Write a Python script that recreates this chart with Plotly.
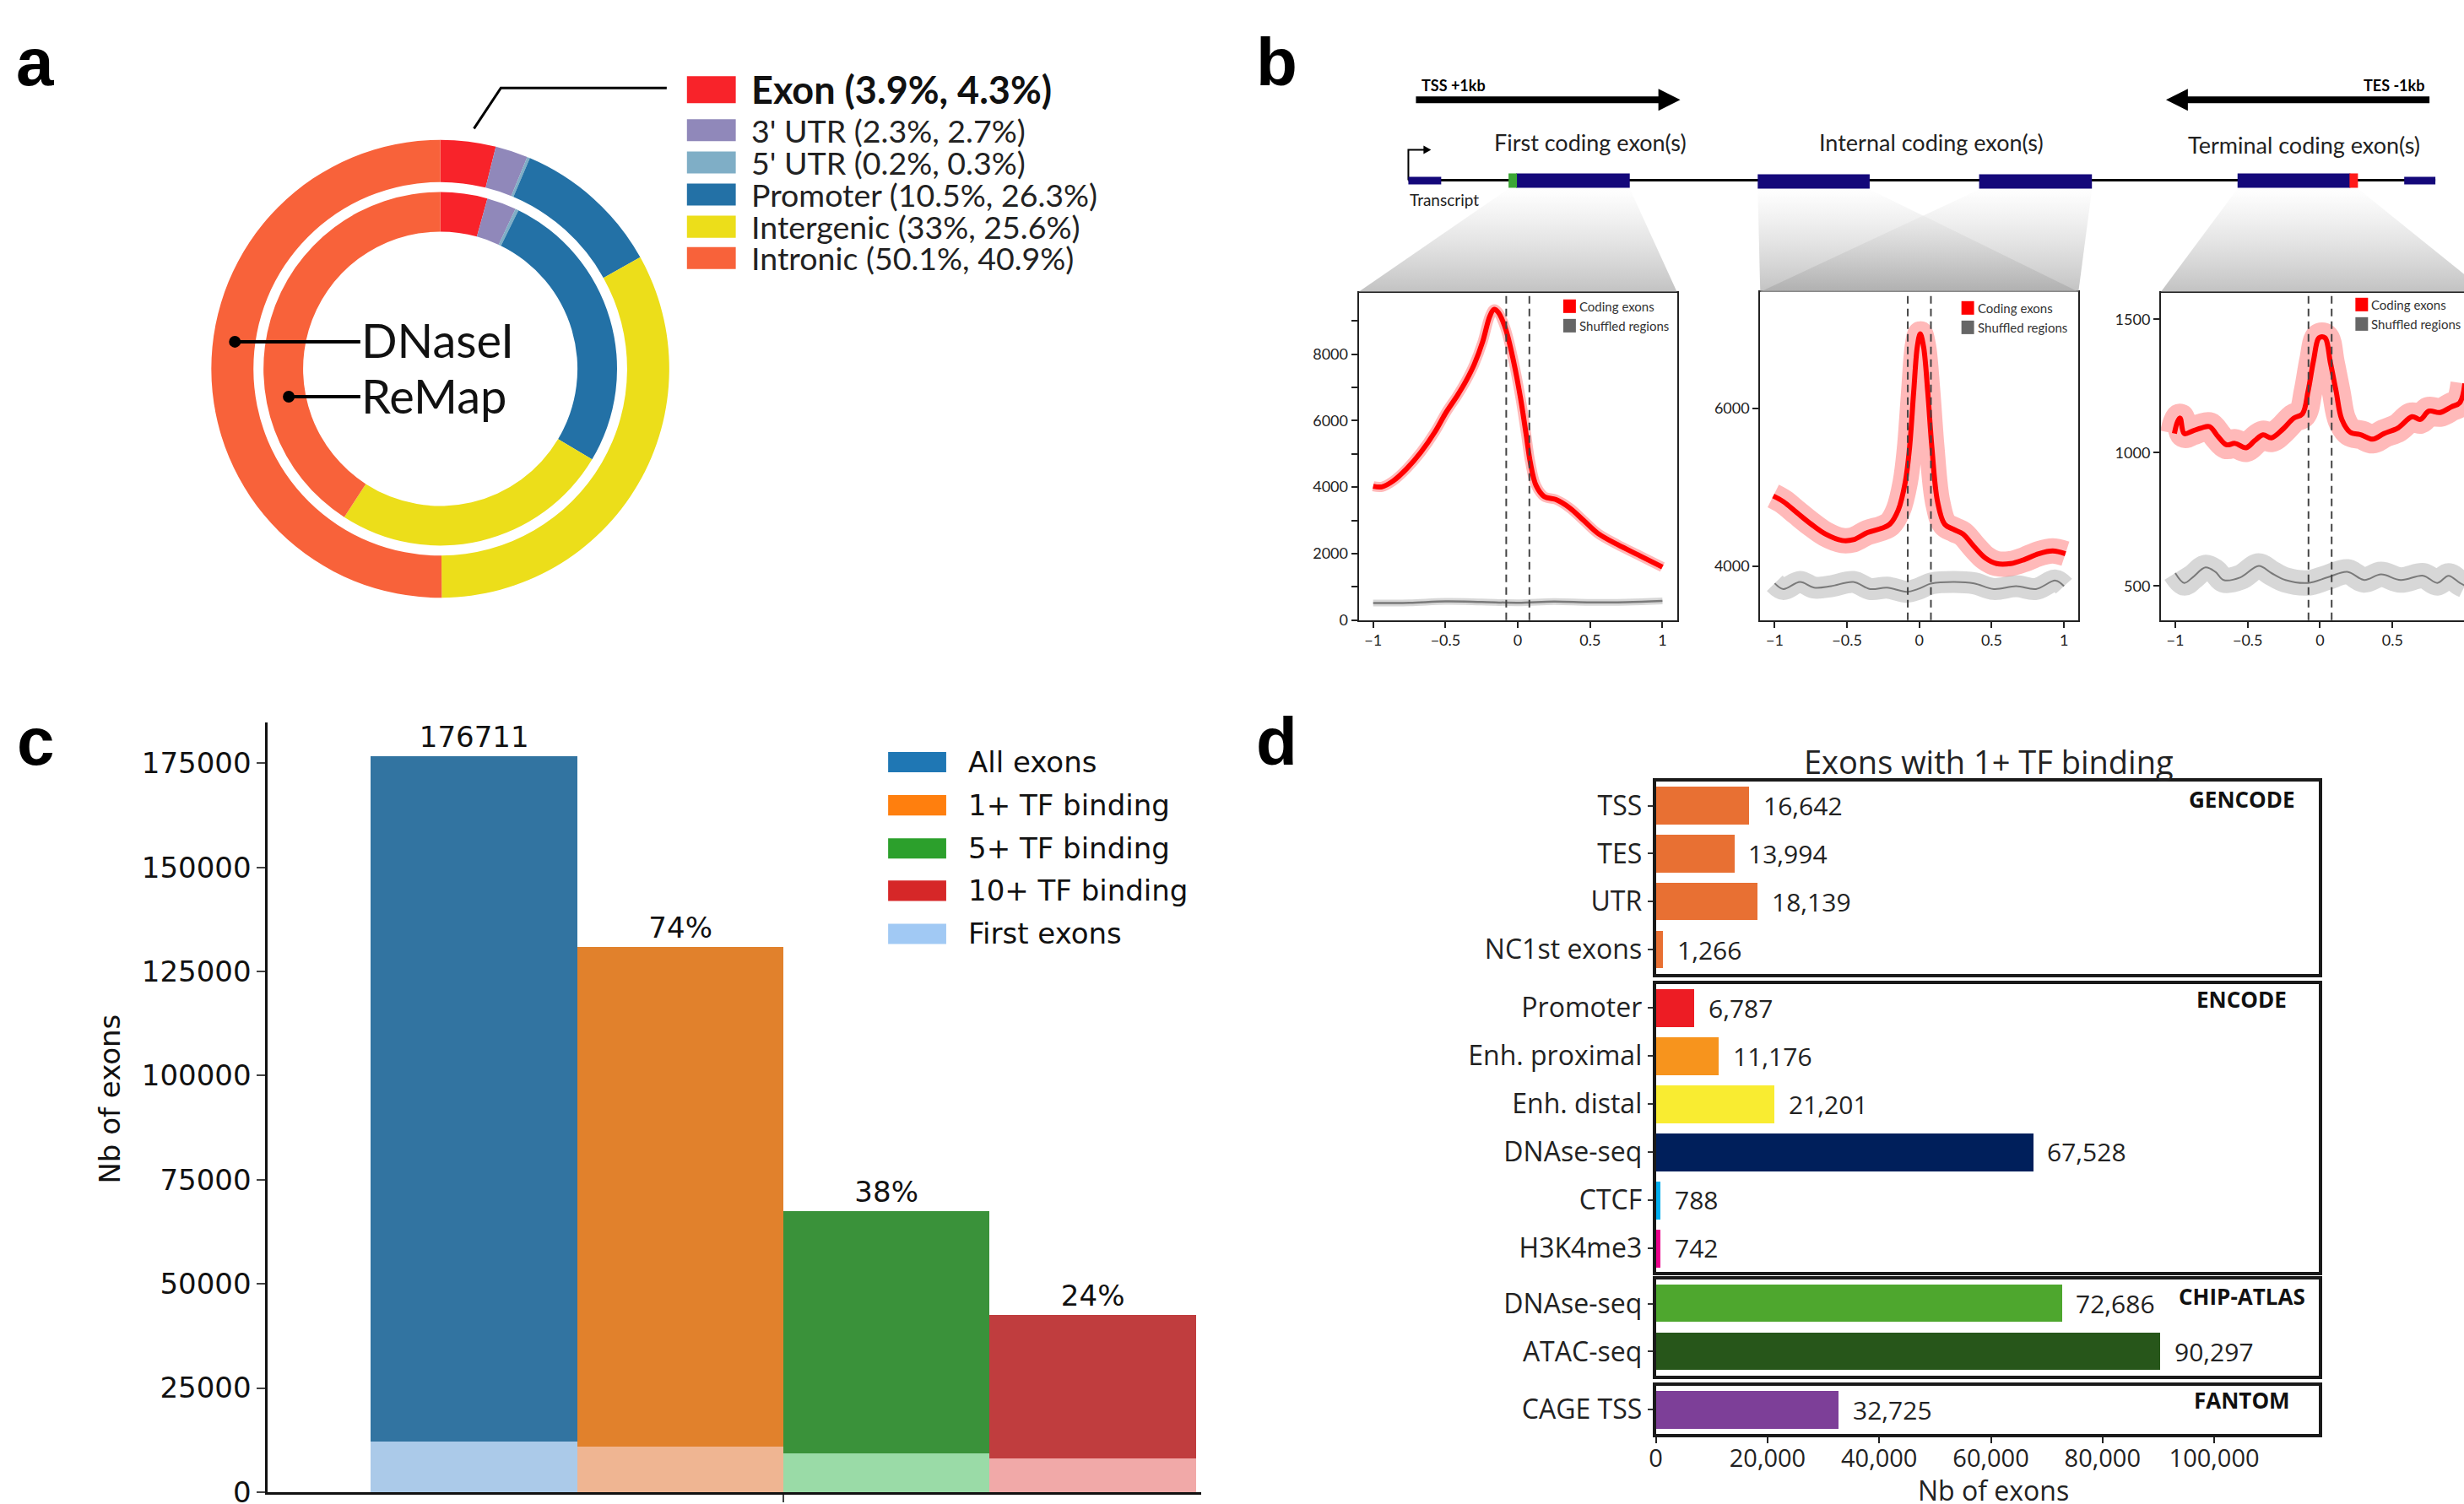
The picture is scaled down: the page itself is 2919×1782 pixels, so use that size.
import plotly.graph_objects as go

W, H = 2919, 1782
H_FIG = 1806  # page is squeezed to the window height when photographed

# ---------------- Panel a data ----------------
region_labels = ["Exon", "3' UTR", "5' UTR", "Promoter", "Intergenic", "Intronic"]
dnase_pct = [3.9, 2.3, 0.2, 10.5, 33, 50.1]
remap_pct = [4.3, 2.7, 0.3, 26.3, 25.6, 40.9]
region_colors = ["#F8232A", "#9088BA", "#7FAEC6", "#2371A6", "#ECDE1A", "#F8623A"]
ring_names = ["DNaseI", "ReMap"]

# ---------------- Panel b data ----------------
first_x = [-1.0, -0.94, -0.864, -0.767, -0.67, -0.573, -0.495, -0.417, -0.359, -0.301,
           -0.243, -0.194, -0.165, -0.136, -0.087, -0.029, 0.019, 0.058, 0.087, 0.126,
           0.184, 0.262, 0.359, 0.456, 0.553, 0.689, 0.845, 1.0]
first_coding = [4025, 4008, 4178, 4559, 5051, 5661, 6254, 6763, 7186, 7695,
                8373, 9136, 9347, 9263, 8797, 7780, 6678, 5576, 4729, 4051,
                3712, 3627, 3373, 2992, 2610, 2271, 1932, 1593]
first_shuf_x = [-1.0, -0.75, -0.5, -0.25, 0.0, 0.25, 0.5, 0.75, 1.0]
first_shuffled = [510, 520, 560, 545, 520, 555, 530, 540, 575]

internal_x = [-1.01, -0.94, -0.845, -0.748, -0.65, -0.534, -0.456, -0.359, -0.262, -0.204,
              -0.146, -0.097, -0.068, -0.039, -0.014, 0.006, 0.029, 0.058, 0.087, 0.126,
              0.175, 0.243, 0.301, 0.379, 0.456, 0.534, 0.631, 0.728, 0.825, 0.922, 1.01]
internal_coding = [4893, 4821, 4679, 4536, 4411, 4329, 4339, 4429, 4482, 4536,
                   4714, 5071, 5500, 6214, 6786, 6946, 6786, 6214, 5500, 4821,
                   4536, 4464, 4411, 4250, 4107, 4036, 4036, 4089, 4161, 4196, 4161]
internal_shuf_x = [-1.0, -0.94, -0.825, -0.728, -0.61, -0.456, -0.34, -0.223, -0.087, -0.01,
                   0.087, 0.243, 0.379, 0.515, 0.67, 0.806, 0.942, 1.0]
internal_shuffled = [3786, 3714, 3804, 3732, 3750, 3804, 3714, 3732, 3679, 3714,
                     3786, 3804, 3786, 3714, 3750, 3714, 3821, 3750]

terminal_x = [-1.006, -0.986, -0.967, -0.938, -0.88, -0.82, -0.763, -0.705, -0.647, -0.588,
              -0.511, -0.452, -0.394, -0.336, -0.258, -0.181, -0.122, -0.083, -0.045, -0.006,
              0.033, 0.072, 0.111, 0.15, 0.208, 0.285, 0.363, 0.441, 0.538, 0.635,
              0.693, 0.751, 0.829, 0.907, 0.965, 1.0]
terminal_coding = [1072, 1114, 1130, 1072, 1082, 1093, 1098, 1061, 1030, 1035,
                   1019, 1045, 1067, 1056, 1088, 1130, 1146, 1230, 1346, 1431,
                   1431, 1336, 1230, 1125, 1077, 1067, 1051, 1072, 1093, 1135,
                   1125, 1156, 1151, 1172, 1188, 1260]
terminal_shuf_x = [-1.0, -0.938, -0.88, -0.792, -0.724, -0.666, -0.55, -0.423, -0.336, -0.239,
                   -0.083, 0.052, 0.188, 0.305, 0.421, 0.557, 0.713, 0.81, 0.887, 0.965, 1.0]
terminal_shuffled = [549, 512, 533, 570, 554, 523, 533, 576, 549, 523,
                     512, 533, 554, 523, 544, 523, 539, 512, 539, 512, 502]

exon_bounds = [-0.08, 0.08]
b_xticks = [-1, -0.5, 0, 0.5, 1]
b_xticklabels = ["\u22121", "\u22120.5", "0", "0.5", "1"]
b1_yticks = [0, 1000, 2000, 3000, 4000, 5000, 6000, 7000, 8000, 9000]
b1_yticklabels = ["0", "", "2000", "", "4000", "", "6000", "", "8000", ""]
b2_yticks = [4000, 6000]
b3_yticks = [500, 1000, 1500]
b_titles = ["First coding exon(s)", "Internal coding exon(s)", "Terminal coding exon(s)"]
b_legend = ["Coding exons", "Shuffled regions"]

# ---------------- Panel c data ----------------
c_groups = ["All exons", "1+ TF binding", "5+ TF binding", "10+ TF binding"]
c_counts = [176711, 131000, 67500, 42600]
c_first = [12200, 10950, 9350, 8150]
c_bar_colors = ["#3274A1", "#E1812C", "#3A923A", "#C03D3E"]
c_first_colors = ["#ABCAE9", "#EFB592", "#9ADBA7", "#F1A9A8"]
c_legend_labels = c_groups + ["First exons"]
c_legend_colors = ["#1F77B4", "#FF7F0E", "#2CA02C", "#D62728", "#A1C9F4"]
c_yticks = [0, 25000, 50000, 75000, 100000, 125000, 150000, 175000]

# ---------------- Panel d data ----------------
d_sources = ["GENCODE", "ENCODE", "CHIP-ATLAS", "FANTOM"]
gencode_labels = ["TSS", "TES", "UTR", "NC1st exons"]
gencode_vals = [16642, 13994, 18139, 1266]
gencode_colors = ["#E87033", "#E87033", "#E87033", "#E87033"]
encode_labels = ["Promoter", "Enh. proximal", "Enh. distal", "DNAse-seq", "CTCF", "H3K4me3"]
encode_vals = [6787, 11176, 21201, 67528, 788, 742]
encode_colors = ["#ED1C24", "#F7941D", "#F9EC31", "#001F5B", "#00AEEF", "#EC008C"]
chip_labels = ["DNAse-seq", "ATAC-seq"]
chip_vals = [72686, 90297]
chip_colors = ["#4EA72E", "#27561A"]
fantom_labels = ["CAGE TSS"]
fantom_vals = [32725]
fantom_colors = ["#7D3F98"]
d_xticks = [0, 20000, 40000, 60000, 80000, 100000]

# ======================================================================
def xd(a, b):
    return [a / W, b / W]


def yd(top, bot):
    return [1 - bot / H, 1 - top / H]


fig = go.Figure()
shapes = []
annotations = []
PX = dict(xref="x9", yref="y9")


def text(x, y, s, size, family="Lato", color="#1a1a1a", xanchor="left", yanchor="middle", angle=0):
    annotations.append(dict(x=x, y=y, text=s, showarrow=False, xanchor=xanchor, yanchor=yanchor,
                            textangle=angle, font=dict(size=size, family=family, color=color), **PX))


def rect(x0, y0, x1, y1, color, line_w=0, line_c=None):
    shapes.append(dict(type="rect", x0=x0, y0=y0, x1=x1, y1=y1, fillcolor=color,
                       line=dict(width=line_w, color=line_c or color), **PX))


def path(d, color="black", width=3, fill=None):
    s = dict(type="path", path=d, line=dict(color=color, width=width), **PX)
    if fill:
        s["fillcolor"] = fill
    shapes.append(s)


# ---------------- Panel labels ----------------
for lab, x, y in [("a", 9, 73), ("b", 1482, 73), ("c", 10, 877), ("d", 1482, 877)]:
    text(x, y, "<b>%s</b>" % lab, 80, family="Liberation Sans", color="black")

# ---------------- Panel a ----------------
cx, cy = 515, 436
for vals, r, hole in [(dnase_pct, 272, 0.816), (remap_pct, 210, 0.776)]:
    fig.add_trace(go.Pie(values=vals, labels=region_labels, sort=False, direction="clockwise",
                         rotation=0, hole=hole, textinfo="none", hoverinfo="skip", showlegend=False,
                         marker=dict(colors=region_colors, line=dict(width=0)),
                         domain=dict(x=xd(cx - r, cx + r), y=yd(cy - r, cy + r))))

leg_rows = [106, 154, 192, 230, 268, 305]
for i, (lab, dv, rv, col) in enumerate(zip(region_labels, dnase_pct, remap_pct, region_colors)):
    hh = 16 if i == 0 else 13
    rect(808, leg_rows[i] - hh, 866, leg_rows[i] + hh, col)
    s = "%s (%s%%, %s%%)" % (lab, dv, rv)
    if i == 0:
        text(882, leg_rows[i], "<b>%s</b>" % s, 45, color="#111")
    else:
        text(882, leg_rows[i], s, 37.5, color="#222")
path("M 555 152 L 587 104 L 784 104", width=3)

for name, dotx, y in [(ring_names[0], 271, 404), (ring_names[1], 335, 469)]:
    shapes.append(dict(type="circle", x0=dotx - 7, x1=dotx + 7, y0=y - 7, y1=y + 7,
                       fillcolor="black", line=dict(width=0), **PX))
    shapes.append(dict(type="line", x0=dotx, x1=420, y0=y, y1=y, line=dict(color="black", width=4), **PX))
    text(419, y - 2, name, 56, color="#111")

# ---------------- Panel b : schematic ----------------
NAVY = "#14087A"
rect(1674, 114, 1964, 122, "black")
path("M 1962 105 L 1988 118 L 1962 131 Z", width=0, fill="black")
text(1679, 101, "<b>TSS +1kb</b>", 18, color="black")
rect(2588, 114, 2878, 122, "black")
path("M 2591 105 L 2565 118 L 2591 131 Z", width=0, fill="black")
text(2874, 101, "<b>TES -1kb</b>", 18, color="black", xanchor="right")
trap = [
    ([1784, 1928, 1984, 1606, 1784], [223, 223, 345, 345, 223]),
    ([2080, 2213, 2461, 2083, 2080], [224, 224, 345, 345, 224]),
    ([2343, 2477, 2461, 2083, 2343], [224, 224, 345, 345, 224]),
    ([2650, 2793, 2945, 2559, 2650], [223, 223, 345, 345, 223]),
]
for tx, ty in trap:
    fig.add_trace(go.Scatter(x=tx, y=ty, mode="lines", line=dict(width=0), fill="toself",
                             fillgradient=dict(type="vertical", start=224, stop=345,
                                               colorscale=[[0, "rgba(252,252,252,0.5)"],
                                                           [1, "rgba(165,165,165,0.7)"]]),
                             hoverinfo="skip", showlegend=False, xaxis="x9", yaxis="y9"))
shapes.append(dict(type="line", x0=1665, x1=2885, y0=213, y1=213, line=dict(color="black", width=3), **PX))
path("M 1665 213 L 1665 177 L 1684 177", width=2)
path("M 1683 172 L 1692 177 L 1683 182 Z", width=0, fill="black")
rect(1665, 209, 1704, 218, NAVY)
rect(2848, 209, 2885, 218, NAVY)
rect(1793, 205, 1928, 222, NAVY)
rect(1784, 205, 1794, 222, "#3BA635")
rect(2080, 206, 2213, 223, NAVY)
rect(2343, 206, 2477, 223, NAVY)
rect(2650, 205, 2784, 222, NAVY)
rect(2783, 205, 2793, 222, "#FF1A1A")
text(1665, 236, "Transcript", 19, color="#222")
text(1881, 168, b_titles[0], 27, color="#222", xanchor="center")
text(2286, 168, b_titles[1], 27, color="#222", xanchor="center")
text(2729, 171, b_titles[2], 27, color="#222", xanchor="center")

# ---------------- Panel b : profiles ----------------
b_sets = [
    (first_x, first_coding, first_shuf_x, first_shuffled, 12, 8),
    (internal_x, internal_coding, internal_shuf_x, internal_shuffled, 30, 26),
    (terminal_x, terminal_coding, terminal_shuf_x, terminal_shuffled, 34, 30),
]
for i, (rx, ry, gx, gy, rband, gband) in enumerate(b_sets, start=1):
    xa, ya = "x%d" % i if i > 1 else "x", "y%d" % i if i > 1 else "y"
    fig.add_trace(go.Scatter(x=gx, y=gy, mode="lines", line=dict(color="rgba(175,175,175,0.5)", width=gband, shape="spline"),
                             hoverinfo="skip", showlegend=False, xaxis=xa, yaxis=ya))
    fig.add_trace(go.Scatter(x=gx, y=gy, mode="lines", line=dict(color="#7a7a7a", width=2.5 if i == 1 else 2, shape="spline"),
                             hoverinfo="skip", showlegend=False, xaxis=xa, yaxis=ya))
    fig.add_trace(go.Scatter(x=rx, y=ry, mode="lines", line=dict(color="rgba(255,80,80,0.4)", width=rband, shape="spline"),
                             hoverinfo="skip", showlegend=False, xaxis=xa, yaxis=ya))
    fig.add_trace(go.Scatter(x=rx, y=ry, mode="lines", line=dict(color="#FF0000", width=6, shape="spline"),
                             hoverinfo="skip", showlegend=False, xaxis=xa, yaxis=ya))
    for xb in exon_bounds:
        shapes.append(dict(type="line", xref=xa, yref=ya + " domain", x0=xb, x1=xb, y0=0, y1=1,
                           line=dict(color="#444", width=2, dash="9px,6px")))

b_leg_pos = [(1849, 362, 385), (2322, 364, 387), (2790, 360, 383)]
for lx, ry, gy in b_leg_pos:
    rect(lx, ry - 8, lx + 15, ry + 8, "#FF0000")
    rect(lx, gy - 8, lx + 15, gy + 8, "#666666")
    text(lx + 17, ry, b_legend[0], 15, color="#333")
    text(lx + 17, gy, b_legend[1], 15, color="#333")

b_axis = dict(showline=True, linecolor="#222", linewidth=2, ticks="outside", ticklen=7, tickwidth=1.5,
              tickcolor="#222", showgrid=False, zeroline=False,
              tickfont=dict(family="Lato", size=18, color="#222"))
lay = {}
lay["xaxis"] = dict(b_axis, domain=xd(1606, 1984), range=[-1.1, 1.1], anchor="y", mirror=True,
                    tickvals=b_xticks, ticktext=b_xticklabels)
lay["yaxis"] = dict(b_axis, domain=yd(346, 733), range=[0, 9850], anchor="x", mirror=True,
                    tickvals=b1_yticks, ticktext=b1_yticklabels)
lay["xaxis2"] = dict(b_axis, domain=xd(2083, 2461), range=[-1.1, 1.1], anchor="y2", mirror=True,
                     tickvals=b_xticks, ticktext=b_xticklabels)
lay["yaxis2"] = dict(b_axis, domain=yd(345, 733), range=[3321, 7479], anchor="x2", mirror=True,
                     tickvals=b2_yticks)
lay["xaxis3"] = dict(b_axis, domain=xd(2559, 2919), range=[-1.099, 0.994], anchor="y3", mirror=True,
                     tickvals=b_xticks, ticktext=b_xticklabels)
lay["yaxis3"] = dict(b_axis, domain=yd(346, 733), range=[373, 1600], anchor="x3", mirror=False,
                     tickvals=b3_yticks)

# ---------------- Panel c ----------------
c_x = list(range(len(c_groups)))
c_text = [str(c_counts[0])] + ["%d%%" % round(v / c_counts[0] * 100) for v in c_counts[1:]]
fig.add_trace(go.Bar(x=c_x, y=c_counts, width=1, marker=dict(color=c_bar_colors, line=dict(width=0)),
                     text=c_text, textposition="outside", cliponaxis=False,
                     textfont=dict(family="DejaVu Sans", size=34, color="#111"),
                     hoverinfo="skip", showlegend=False, xaxis="x4", yaxis="y4"))
fig.add_trace(go.Bar(x=c_x, y=c_first, width=1, marker=dict(color=c_first_colors, line=dict(width=0)),
                     hoverinfo="skip", showlegend=False, xaxis="x4", yaxis="y4"))
lay["xaxis4"] = dict(domain=xd(310, 1419), range=[-1.0, 3.525], anchor="y4", showline=True,
                     linecolor="#111", linewidth=2.5, ticks="outside", ticklen=9, tickwidth=2,
                     tickvals=[1.5], ticktext=[""], showgrid=False, zeroline=False)
lay["yaxis4"] = dict(domain=yd(854, 1764), range=[0, 184800], anchor="x4", showline=True,
                     linecolor="#111", linewidth=2.5, ticks="outside", ticklen=10, tickwidth=2,
                     tickvals=c_yticks, showgrid=False, zeroline=False, tickformat="d",
                     tickfont=dict(family="DejaVu Sans", size=34, color="#111"))
text(122, 1299, "Nb of exons", 34, family="DejaVu Sans", color="#111", xanchor="center", angle=-90)
c_leg_rows = [901, 952, 1003, 1053, 1104]
for yy, lab, col in zip(c_leg_rows, c_legend_labels, c_legend_colors):
    rect(1047, yy - 12, 1116, yy + 12, col)
    text(1140, yy, lab, 34, family="DejaVu Sans", color="#111")

# ---------------- Panel d ----------------
d_groups = [
    (gencode_labels, gencode_vals, gencode_colors, (924, 1151), 945),
    (encode_labels, encode_vals, encode_colors, (1163, 1504), 1181),
    (chip_labels, chip_vals, chip_colors, (1513, 1626), 1533),
    (fantom_labels, fantom_vals, fantom_colors, (1638, 1695), 1655),
]
for k, (labs, vals, cols, (top, bot), ty) in enumerate(d_groups):
    n = 5 + k
    xa, ya = "x%d" % n, "y%d" % n
    fig.add_trace(go.Bar(y=labs, x=vals, orientation="h", width=0.78,
                         marker=dict(color=cols, line=dict(width=0)), hoverinfo="skip",
                         showlegend=False, xaxis=xa, yaxis=ya))
    for lab, v in zip(labs, vals):
        annotations.append(dict(x=v, y=lab, xref=xa, yref=ya, text="{:,}".format(v), showarrow=False,
                                xanchor="left", xshift=15, font=dict(family="Open Sans", size=30, color="#222")))
    last = (k == len(d_groups) - 1)
    lay["xaxis%d" % n] = dict(domain=xd(1959, 2747), range=[0, 118800], anchor=ya, showline=True, mirror=True,
                              linecolor="#1a1a1a", linewidth=4, showgrid=False, zeroline=False,
                              ticks="outside" if last else "", ticklen=7, tickwidth=2, tickcolor="#222",
                              showticklabels=last, tickvals=d_xticks, tickformat=",", ticklabelstandoff=-7,
                              tickfont=dict(family="Open Sans", size=29, color="#222"))
    lay["yaxis%d" % n] = dict(domain=yd(top, bot), type="category", range=[len(labs) - 0.5, -0.5], anchor=xa,
                              showline=True, mirror=True, linecolor="#1a1a1a", linewidth=4, showgrid=False,
                              zeroline=False, ticks="outside", ticklen=6, tickwidth=2, tickcolor="#333",
                              tickfont=dict(family="Open Sans", size=32, color="#222"))
    text(2655, ty, "<b>%s</b>" % d_sources[k], 26, family="Open Sans", color="#111", xanchor="center")

text(2354, 900, "Exons with 1+ TF binding", 38, family="Open Sans", color="#222", xanchor="center")
text(2360, 1762, "Nb of exons", 32, family="Open Sans", color="#222", xanchor="center")

# ---------------- overlay pixel axis ----------------
lay["xaxis9"] = dict(domain=[0, 1], range=[0, W], visible=False, anchor="y9", fixedrange=True)
lay["yaxis9"] = dict(domain=[0, 1], range=[H, 0], visible=False, anchor="x9", fixedrange=True)

fig.update_layout(width=W, height=H_FIG, margin=dict(l=0, r=0, t=0, b=0), paper_bgcolor="white",
                  plot_bgcolor="rgba(0,0,0,0)", barmode="overlay", bargap=0,
                  shapes=shapes, annotations=annotations, **lay)

fig.write_html("out.html", config={"displayModeBar": False},
               post_script="document.body.style.margin='0';document.body.style.overflow='hidden';")
